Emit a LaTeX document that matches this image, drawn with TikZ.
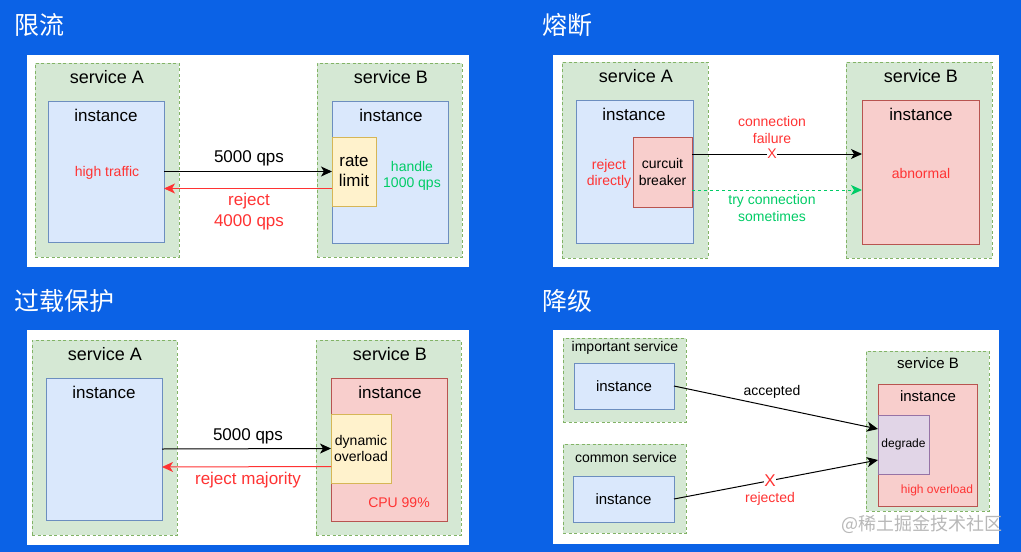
\documentclass[tikz,border=0pt]{standalone}
\usepackage{fontspec}
\setmainfont{Liberation Sans}
\newfontfamily\cjk{Noto Sans CJK SC}
\usetikzlibrary{arrows.meta}

\definecolor{bgblue}{HTML}{0B62E6}
\definecolor{svcfill}{HTML}{D5E8D4}
\definecolor{svcline}{HTML}{82B366}
\definecolor{instfill}{HTML}{DAE8FC}
\definecolor{instline}{HTML}{6C8EBF}
\definecolor{badfill}{HTML}{F8CECC}
\definecolor{badline}{HTML}{B85450}
\definecolor{limfill}{HTML}{FFF2CC}
\definecolor{limline}{HTML}{D6B656}
\definecolor{degfill}{HTML}{E1D5E7}
\definecolor{degline}{HTML}{9673A6}
\definecolor{txtred}{HTML}{FF3333}
\definecolor{txtgreen}{HTML}{00CC66}

\newcommand\txtXL{\fontsize{18}{21}\selectfont}
\newcommand\txtL{\fontsize{17}{20}\selectfont}
\newcommand\txtM{\fontsize{14}{16.5}\selectfont}
\newcommand\txtS{\fontsize{12}{14}\selectfont}

\tikzset{
  box/.style={rectangle, inner sep=0pt, outer sep=0pt, line width=1pt},
  svcbox/.style={box, draw=svcline, fill=svcfill, line width=0.8pt, dash pattern=on 3pt off 2.5pt},
  instbox/.style={box, draw=instline, fill=instfill},
  badbox/.style={box, draw=badline, fill=badfill},
  limbox/.style={box, draw=limline, fill=limfill},
  degbox/.style={box, draw=degline, fill=degfill},
  title/.style={anchor=west, text=white, inner sep=0pt, font=\cjk\fontsize{25}{28}\selectfont},
  lbl/.style={inner sep=0pt, align=center, font=\txtL},
  arr/.style={line width=1pt, -{Stealth[length=11pt,width=10pt,inset=3pt]}},
}

\begin{document}
\begin{tikzpicture}[x=1pt,y=-1pt]

  \fill[bgblue] (0,0) rectangle (1021,552); % background

  % titles
  \node[title] (t1) at (14,25) {限流};
  \node[title] (t2) at (542,25) {熔断};
  \node[title] (t3) at (14,301) {过载保护};
  \node[title] (t4) at (542,301) {降级};

  % white panels
  \fill[white] (27,55) rectangle (469,267);
  \fill[white] (553,55) rectangle (999,267);
  \fill[white] (27,330) rectangle (469,545);
  \fill[white] (553,330) rectangle (999,544);

  % ---- rate limit ----
  \node[svcbox, minimum width=144pt, minimum height=194pt] (sa1) at (107,160) {};
  \node[svcbox, minimum width=145pt, minimum height=194pt] (sb1) at (389.5,160) {};
  \node[instbox, minimum width=116pt, minimum height=141pt] (ia1) at (106,171.5) {};
  \node[instbox, minimum width=116pt, minimum height=142pt] (ib1) at (390,172) {};
  \node[limbox, minimum width=44pt, minimum height=69pt] (rl) at (354,171.5) {};
  \node[lbl, font=\txtXL] at (107,77) {service A};
  \node[lbl] at (106,115) {instance};
  \node[lbl, font=\txtM, text=txtred] at (107,173) {high traffic};
  \node[lbl, font=\txtXL] at (391,77) {service B};
  \node[lbl] at (391,115) {instance};
  \node[lbl] at (rl) {rate\\limit};
  \node[lbl, font=\txtM, text=txtgreen] at (412,176) {handle\\1000 qps};

  \draw[arr] (ia1.east) -- (rl.west);
  \draw[arr, txtred] ([yshift=-17pt]rl.west) -- ([yshift=-17pt]ia1.east);
  \node[lbl] at (249,158) {5000 qps};
  \node[lbl, text=txtred, align=center] at (249,212) {reject\\[1pt]4000 qps};

  % ---- circuit breaker ----
  \node[svcbox, minimum width=146pt, minimum height=196pt] (sa2) at (635,160) {};
  \node[svcbox, minimum width=146pt, minimum height=196pt] (sb2) at (919,160) {};
  \node[instbox, minimum width=117pt, minimum height=143pt] (ia2) at (634.5,171.5) {};
  \node[badbox, minimum width=117pt, minimum height=144pt] (ib2) at (920.5,172) {};
  \node[badbox, minimum width=59pt, minimum height=70pt] (cb) at (662.5,172) {};
  \node[lbl, font=\txtXL] at (636,76) {service A};
  \node[lbl] at (634,114) {instance};
  \node[lbl, font=\txtM, text=txtred] at (609,174) {reject\\directly};
  \node[lbl, font=\txtM] at (cb) {curcuit\\breaker};
  \node[lbl, font=\txtXL] at (921,76) {service B};
  \node[lbl] at (921,114) {instance};
  \node[lbl, font=\txtM, text=txtred] at (921,173) {abnormal};

  \draw[arr] ([yshift=18pt]cb.east) -- ([yshift=18pt]ib2.west);
  \draw[arr, txtgreen, dash pattern=on 3pt off 3pt] ([yshift=-18pt]cb.east) -- ([yshift=-18pt]ib2.west);
  \node[lbl, font=\txtM, text=txtred] at (772,130) {connection\\failure};
  \node[lbl, font=\txtM, text=txtred, fill=white] at (772,154) {X};
  \node[lbl, font=\txtM, text=txtgreen] at (772,208) {try connection\\sometimes};

  % ---- overload protection ----
  \node[svcbox, minimum width=145pt, minimum height=195pt] (sa3) at (104.5,437.5) {};
  \node[svcbox, minimum width=145pt, minimum height=195pt] (sb3) at (388.5,437.5) {};
  \node[instbox, minimum width=116pt, minimum height=142pt] (ia3) at (104,449) {};
  \node[badbox, minimum width=116pt, minimum height=143pt] (ib3) at (389,449.5) {};
  \node[limbox, minimum width=60pt, minimum height=69pt] (dyn) at (361,448.5) {};
  \node[lbl, font=\txtXL] at (105,354) {service A};
  \node[lbl] at (104,392) {instance};
  \node[lbl, font=\txtXL] at (390,354) {service B};
  \node[lbl] at (390,392) {instance};
  \node[lbl, font=\txtM] at (dyn) {dynamic\\overload};
  \node[lbl, font=\txtM, text=txtred] at (399,503) {CPU 99\%};

  \draw[arr] (ia3.east) -- (dyn.west);
  \draw[arr, txtred] ([yshift=-18pt]dyn.west) -- ([yshift=-18pt]ia3.east);
  \node[lbl] at (248,436) {5000 qps};
  \node[lbl, text=txtred] at (248,480) {reject majority};

  % ---- degradation ----
  \node[svcbox, minimum width=123pt, minimum height=84pt] (imp) at (624.5,380) {};
  \node[svcbox, minimum width=123pt, minimum height=89pt] (com) at (624.5,488.5) {};
  \node[svcbox, minimum width=123pt, minimum height=160pt] (sb4) at (927.5,431) {};
  \node[instbox, minimum width=100pt, minimum height=46pt] (ii4) at (624,386) {};
  \node[instbox, minimum width=101pt, minimum height=46pt] (ic4) at (623.5,499) {};
  \node[badbox, minimum width=99pt, minimum height=122pt] (ib4) at (927.5,445) {};
  \node[degbox, minimum width=51pt, minimum height=59pt] (deg) at (903.5,444.5) {};
  \node[lbl, font=\txtM] at (625,348) {important service};
  \node[lbl, font=\txtM] at (626,457) {common service};
  \node[lbl, font=\fontsize{15}{18}\selectfont] at (ii4) {instance};
  \node[lbl, font=\fontsize{15}{18}\selectfont] at (ic4) {instance};
  \node[lbl, font=\fontsize{15}{18}\selectfont] at (928,363) {service B};
  \node[lbl, font=\fontsize{15}{18}\selectfont] at (928,396) {instance};
  \node[lbl, font=\txtS] at (deg) {degrade};
  \node[lbl, font=\txtS, text=txtred] at (937,490) {high overload};

  \draw[arr] (ii4.east) -- ([yshift=15.5pt]deg.west);
  \draw[arr] (ic4.east) -- ([yshift=-15.5pt]deg.west);
  \node[lbl, font=\txtM] at (772,392) {accepted};
  \node[lbl, font=\fontsize{17}{20}\selectfont, text=txtred, fill=white] at (770,481) {X};
  \node[lbl, font=\txtM, text=txtred] at (770,499) {rejected};

  \node[lbl, text=black!28, font=\cjk\fontsize{18}{20}\selectfont] at (922,524) {@稀土掘金技术社区};

\end{tikzpicture}
\end{document}
